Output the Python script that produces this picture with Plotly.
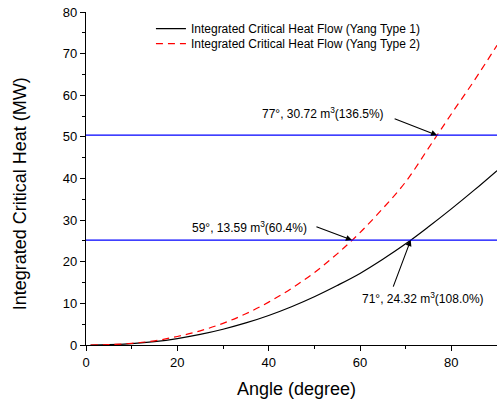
import numpy as np
import plotly.graph_objects as go

# ---- data ----
angles = [1, 5, 10, 15, 20, 25, 30, 35, 40, 45, 50, 55, 60, 65, 70, 75, 80, 85, 90]
heat_type1 = [0.0, 0.07, 0.34, 0.82, 1.55, 2.54, 3.79, 5.3, 7.1, 9.2, 11.6, 14.3, 17.2, 20.6, 24.3, 28.4, 32.7, 37.2, 41.9]
heat_type2 = [0.0, 0.08, 0.4, 1.0, 2.05, 3.4, 5.2, 7.5, 10.3, 13.6, 17.4, 21.9, 27.0, 32.8, 39.2, 47.3, 55.5, 63.5, 72.0]
levels = [25.2, 50.4]
series_names = ["Integrated Critical Heat Flow (Yang Type 1)",
                "Integrated Critical Heat Flow (Yang Type 2)"]
label_texts = ["77°, 30.72 m<sup>3</sup>(136.5%)",
               "59°, 13.59 m<sup>3</sup>(60.4%)",
               "71°, 24.32 m<sup>3</sup>(108.0%)"]

FONT = "Arial, 'Liberation Sans', sans-serif"

fig = go.Figure()
fig.add_trace(go.Scatter(x=angles, y=heat_type1, mode="lines", name=series_names[0],
                         line=dict(color="black", width=1.2, shape="spline"),
                         legend="legend"))
fig.add_trace(go.Scatter(x=angles, y=heat_type2, mode="lines", name=series_names[1],
                         line=dict(color="#ff0000", width=1.2, dash="7px,5px", shape="spline"),
                         legend="legend2"))
for lv in levels:
    fig.add_trace(go.Scatter(x=[0, 90], y=[lv, lv], mode="lines", showlegend=False,
                             line=dict(color="#0000ff", width=1.2)))

# crossing points
cross_t2_hi = float(np.interp(levels[1], heat_type2, angles))
cross_t2_lo = float(np.interp(levels[0], heat_type2, angles))
cross_t1_lo = float(np.interp(levels[0], heat_type1, angles))

arrows = [
    (cross_t2_hi, levels[1], -44, -17),
    (cross_t2_lo, levels[0], -37, -14),
    (cross_t1_lo, levels[0], -18, 48),
]
for x, y, ax, ay in arrows:
    fig.add_annotation(x=x, y=y, ax=ax, ay=ay, text="", showarrow=True,
                       arrowhead=2, arrowsize=1.1, arrowwidth=1.1, arrowcolor="black",
                       standoff=0, startstandoff=0)

label_pos = [(52.0, 55.8), (35.8, 28.4), (73.8, 11.3)]
for (x, y), t in zip(label_pos, label_texts):
    fig.add_annotation(x=x, y=y, text=t, showarrow=False, xanchor="center", yanchor="middle",
                       font=dict(family=FONT, size=12, color="black"))

# axis titles
fig.add_annotation(xref="paper", yref="paper", x=0.511, y=-0.132, text="Angle (degree)",
                   xanchor="center", yanchor="middle",
                   showarrow=False, font=dict(family=FONT, size=18, color="black"))
fig.add_annotation(xref="paper", yref="paper", x=-0.16, y=0.4535, textangle=-90,
                   text="Integrated Critical Heat (MW)", xanchor="center", yanchor="middle",
                   showarrow=False, font=dict(family=FONT, size=18, color="black"))

fig.update_layout(
    width=497, height=404,
    margin=dict(l=86, r=0, t=12, b=59),
    plot_bgcolor="white", paper_bgcolor="white",
    font=dict(family=FONT, size=13, color="black"),
    legend=dict(x=0.158, y=0.950, xanchor="left", yanchor="middle",
                bgcolor="rgba(0,0,0,0)", font=dict(size=12, family=FONT)),
    legend2=dict(x=0.158, y=0.905, xanchor="left", yanchor="middle",
                 bgcolor="rgba(0,0,0,0)", font=dict(size=12, family=FONT)),
)
fig.update_xaxes(range=[0, 90], showline=True, linecolor="black", linewidth=1.3,
                 ticks="outside", ticklen=5, tickwidth=1.2, tickcolor="black",
                 dtick=20, tick0=0, showgrid=False, zeroline=False,
                 minor=dict(dtick=10, ticks="outside", ticklen=3, tickcolor="black", tickwidth=1),
                 tickfont=dict(size=13))
fig.update_yaxes(range=[0, 80], showline=True, linecolor="black", linewidth=1.3,
                 ticks="outside", ticklen=5, tickwidth=1.2, tickcolor="black",
                 dtick=10, tick0=0, showgrid=False, zeroline=False,
                 minor=dict(dtick=5, ticks="outside", ticklen=3, tickcolor="black", tickwidth=1),
                 tickfont=dict(size=13))

# remove the browser's default 8px page margin so the figure sits at the window's top-left
fig.write_html("out.html", config={"displayModeBar": False},
               post_script="document.body.style.margin='0';document.body.style.overflow='hidden';")
